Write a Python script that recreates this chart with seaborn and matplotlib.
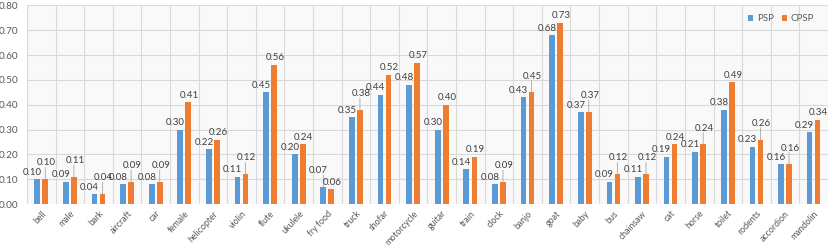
import numpy as np
import pandas as pd
import matplotlib
matplotlib.use('Agg')
import matplotlib.pyplot as plt
import seaborn as sns

#################### DATA ####################
categories = ['bell', 'male', 'bark', 'aircraft', 'car', 'female', 'helicopter', 'violin',
              'flute', 'ukulele', 'fry food', 'truck', 'shofar', 'motorcycle', 'guitar',
              'train', 'clock', 'banjo', 'goat', 'baby', 'bus', 'chainsaw', 'cat', 'horse',
              'toilet', 'rodents', 'accordion', 'mandolin']
psp = [0.10, 0.09, 0.04, 0.08, 0.08, 0.30, 0.22, 0.11, 0.45, 0.20, 0.07, 0.35, 0.44, 0.48,
       0.30, 0.14, 0.08, 0.43, 0.68, 0.37, 0.09, 0.11, 0.19, 0.21, 0.38, 0.23, 0.16, 0.29]
cpsp = [0.10, 0.11, 0.04, 0.09, 0.09, 0.41, 0.26, 0.12, 0.56, 0.24, 0.06, 0.38, 0.52, 0.57,
        0.40, 0.19, 0.09, 0.45, 0.73, 0.37, 0.12, 0.12, 0.24, 0.24, 0.49, 0.26, 0.16, 0.34]
methods = ['PSP', 'CPSP']
yticks = [0.0, 0.1, 0.2, 0.3, 0.4, 0.5, 0.6, 0.7, 0.8]

#################### PLOT ####################
blue = '#5B9BD5'
orange = '#ED7D31'
grid_col = '#D9D9D9'
text_col = '#595959'

df = pd.DataFrame({
    'category': categories * 2,
    'value': psp + cpsp,
    'method': [methods[0]] * len(categories) + [methods[1]] * len(categories),
})

sns.set_style('white')
plt.rcParams['font.family'] = ['Lato', 'DejaVu Sans']

fig = plt.figure(figsize=(8.3, 2.45), dpi=100)
ax = fig.add_axes([0.0325, 0.167, 0.965, 0.811])
ax.set_facecolor('#F9F9F9')

sns.barplot(data=df, x='category', y='value', hue='method', palette=[blue, orange],
            width=0.56, gap=0.286, saturation=1, linewidth=0, ax=ax, zorder=3)

# data labels, Excel style: raise the taller one when the pair is close
psp_bars = ax.containers[0]
cpsp_bars = ax.containers[1]
for i in range(len(categories)):
    b, o = psp_bars[i], cpsp_bars[i]
    bv, ov = psp[i], cpsp[i]
    close = abs(bv - ov) < 0.035
    raise_blue = close and bv > ov
    raise_orange = close and not raise_blue
    for bar, val, dx, raised in [(b, bv, -3.5, raise_blue), (o, ov, 0.8, raise_orange)]:
        xc = bar.get_x() + bar.get_width() / 2
        top = bar.get_height()
        dy = 8.5 if raised else 1.8
        ax.annotate(f'{val:.2f}', (xc, top), xytext=(dx, dy), textcoords='offset points',
                    ha='center', va='bottom', fontsize=7, color='#404040', zorder=5)
        if raised:
            ax.annotate('', (xc, top), xytext=(0, dy), textcoords='offset points',
                        arrowprops=dict(arrowstyle='-', color='#A6A6A6', lw=0.6,
                                        shrinkA=0, shrinkB=0), zorder=4)

ax.set_ylim(0, 0.8)
ax.set_xlim(-0.5, len(categories) - 0.5)
ax.set_yticks(yticks)
ax.set_yticklabels([f'{t:.2f}' for t in yticks])
ax.set_xticks(np.arange(len(categories)), minor=False)
ax.set_xticklabels(categories, rotation=47, ha='right', rotation_mode='anchor')
ax.set_xticks(np.arange(len(categories) + 1) - 0.5, minor=True)
ax.tick_params(axis='both', which='both', length=0, labelsize=7.2, labelcolor=text_col)
ax.tick_params(axis='x', labelsize=6.3, pad=3.5)
ax.tick_params(axis='y', pad=6)

ax.grid(False)
ax.yaxis.grid(True, color=grid_col, lw=0.8, zorder=0)
ax.xaxis.grid(True, which='minor', color=grid_col, lw=0.8, zorder=0)
ax.set_axisbelow(True)
for s in ax.spines.values():
    s.set_visible(False)
ax.set_xlabel('')
ax.set_ylabel('')

ax.legend(loc='upper right', bbox_to_anchor=(0.983, 0.955), ncol=2, frameon=False,
          fontsize=7, handlelength=0.55, handleheight=0.55, handletextpad=0.4,
          columnspacing=0.8, borderpad=0, borderaxespad=0, labelcolor=text_col)

fig.savefig('out.png', dpi=100, facecolor='white')
